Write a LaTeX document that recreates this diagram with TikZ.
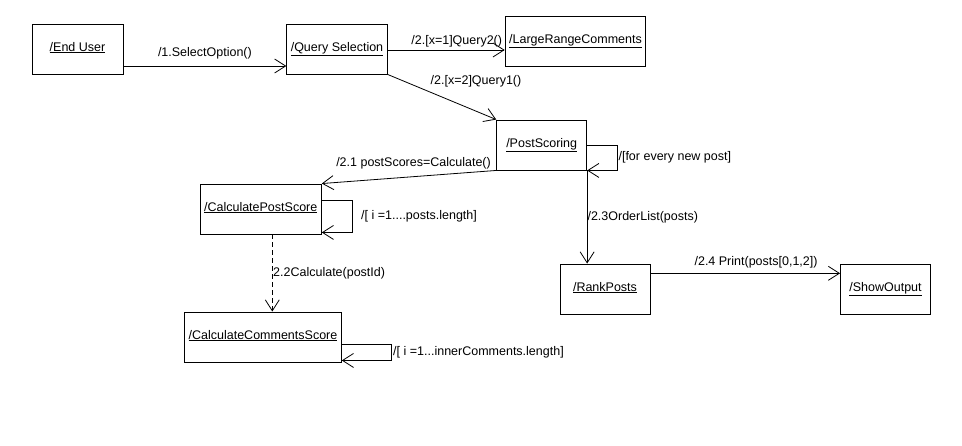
\documentclass[tikz,border=0pt]{standalone}
\usepackage{fontspec}
\setmainfont{Liberation Sans}
\usetikzlibrary{arrows.meta,positioning}

\begin{document}
\begin{tikzpicture}[x=1pt, y=-1pt,
    obj/.style={shape=rectangle, draw, line width=0.9pt, minimum width=90pt, inner xsep=4pt, inner ysep=0pt,
        text height=27pt, text depth=23pt, font=\fontsize{12.5}{14}\selectfont},
    msg/.style={line width=0.8pt, -{Straight Barb[length=11pt,width=14pt]}},
    lbl/.style={inner sep=0pt, text height=9pt, text depth=3pt, font=\fontsize{12.5}{14}\selectfont}]
    \useasboundingbox (0,0) rectangle (962,445);

    \node[obj, minimum width=91pt] (user) at (77.5,49) {\underline{/End User}};
    \node[obj] (qsel) at (337,49) {\underline{/Query Selection}};
    \node[obj] (lrc) at (575.5,41) {\underline{/LargeRangeComments}};
    \node[obj] (pscore) at (541.7,145) {\underline{/PostScoring}};
    \node[obj] (cps) at (260.7,209) {\underline{/CalculatePostScore}};
    \node[obj] (ccs) at (263,337) {\underline{/CalculateCommentsScore}};
    \node[obj] (rank) at (605,289) {\underline{/RankPosts}};
    \node[obj] (show) at (885.5,289) {\underline{/ShowOutput}};

    \draw[msg] ([yshift=-17pt]user.east) -- ([yshift=-17pt]user.east -| qsel.west)
        node[lbl, midway, above=6pt] {/1.SelectOption()};
    \draw[msg] ([yshift=-1pt]qsel.east) -- ([yshift=-1pt]qsel.east -| lrc.west)
        node[lbl, pos=0.59, above=2.6pt] {/2.[x=1]Query2()};
    \draw[msg] (qsel.south east) -- (pscore.north west)
        node[lbl, pos=0.3, anchor=south west, xshift=10pt] {/2.[x=2]Query1()};
    \draw[msg] (pscore.south west) -- (cps.north east)
        node[lbl, pos=0, anchor=south east, xshift=-5pt, yshift=1pt] {/2.1 postScores=Calculate()};
    \draw[msg] (pscore.east) -- ++(30,0) |- (pscore.south east)
        node[lbl, pos=0.25, right=1pt] {/[for every new post]};
    \draw[msg] (pscore.south east) -- (pscore.south east |- rank.north)
        node[lbl, midway, right=0pt] {/2.3OrderList(posts)};
    \draw[msg] ([yshift=15.7pt]rank.east) -- ([yshift=15.7pt]rank.east -| show.west)
        node[lbl, pos=0.557, above=4pt] {/2.4 Print(posts[0,1,2])};
    \draw[msg] ([yshift=9pt]cps.east) -- ++(31,0) |- ([yshift=2pt]cps.south east)
        node[lbl, pos=0.25, right=8pt] {/[ i =1....posts.length]};
    \draw[msg, dash pattern=on 5pt off 3pt] ([xshift=11.6pt]cps.south) -- ([xshift=11.6pt]cps.south |- ccs.north)
        node[lbl, midway, right=0.5pt] {2.2Calculate(postId)};
    \draw[msg] ([yshift=-7pt]ccs.east) -- ++(50,0) |- ([yshift=2pt]ccs.south east)
        node[lbl, pos=0.25, right=1pt] {/[ i =1...innerComments.length]};
\end{tikzpicture}
\end{document}
